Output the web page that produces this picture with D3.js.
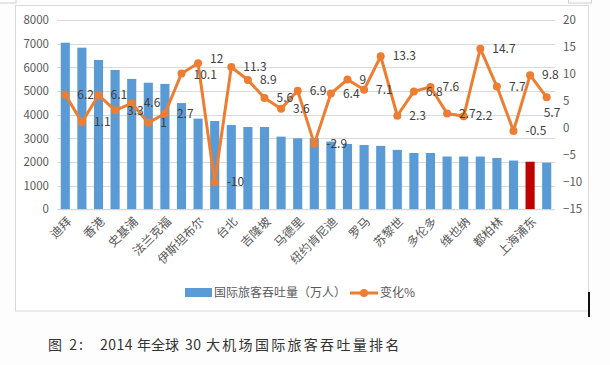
<!DOCTYPE html>
<html><head><meta charset="utf-8">
<script src="https://cdn.jsdelivr.net/npm/d3@7"></script>
<style>body{margin:0;background:#fdfdfd;}svg{display:block;}</style>
</head><body>
<svg id="c" width="610" height="365"></svg>
<script>
const categories = ["迪拜","伦敦希思罗","香港","巴黎戴高乐","史基浦","新加坡","法兰克福","首尔仁川","伊斯坦布尔","曼谷",
  "台北","伦敦盖特威克","吉隆坡","慕尼黑","马德里","东京成田","纽约肯尼迪","巴塞罗那","罗马","多哈",
  "苏黎世","莫斯科","多伦多","哥本哈根","维也纳","阿布扎比","都柏林","马尼拉","上海浦东","迈阿密"];
const passengers = [7040,6830,6310,5890,5510,5350,5300,4490,3830,3730,
  3560,3480,3480,3070,3000,3000,2860,2760,2720,2680,
  2510,2380,2380,2230,2230,2230,2170,2060,2010,1970];
const changePct = [6.2,1.1,6.1,3.3,4.6,1,2.7,10.1,12,-10,
  11.3,8.9,5.6,3.6,6.9,-2.9,6.4,9,7.1,13.3,
  2.3,6.8,7.6,2.7,2.2,14.7,7.7,-0.5,9.8,5.7];
const highlight = "上海浦东";
const leftTicks = [0,1000,2000,3000,4000,5000,6000,7000,8000];
const rightTicks = [-15,-10,-5,0,5,10,15,20];
const seriesNames = ["国际旅客吞吐量（万人）","变化%"];
const captionParts = ["图 2:","2014","年全球","30","大机场国际旅客吞吐量排名"];

const svg = d3.select("#c");
const font = "'Noto Sans CJK SC','Noto Sans',sans-serif";
const axisColor = "#595959";

// chart frame
svg.append("rect").attr("x",15.5).attr("y",5.5).attr("width",573).attr("height",305.5)
  .attr("fill","#fff").attr("stroke","#d9d9d9");
svg.append("rect").attr("x",-1).attr("y",-1).attr("width",17).attr("height",4)
  .attr("fill","none").attr("stroke","#d0d0d0");
svg.append("rect").attr("x",568.5).attr("y",-1).attr("width",23).attr("height",4)
  .attr("fill","none").attr("stroke","#d0d0d0");
svg.append("rect").attr("x",588).attr("y",292).attr("width",2).attr("height",25).attr("fill","#111");

const x = d3.scaleBand().domain(categories).range([57,555]).paddingInner(0.45).paddingOuter(0.225);
const yL = d3.scaleLinear().domain([0,8000]).range([209.3,20]);
const yR = d3.scaleLinear().domain([-15,20]).range([209.3,20]);

// gridlines
svg.append("g").selectAll("line").data(leftTicks).join("line")
  .attr("x1",57).attr("x2",555).attr("y1",d=>Math.round(yL(d))+0.5).attr("y2",d=>Math.round(yL(d))+0.5)
  .attr("stroke","#d9d9d9").attr("stroke-width",1);

// left axis
const gL = svg.append("g").attr("transform","translate(52,0)")
  .call(d3.axisLeft(yL).tickValues(leftTicks).tickFormat(d3.format("d")).tickSize(0).tickPadding(3));
gL.select(".domain").remove();
gL.selectAll("text").attr("font-family",font).attr("font-size","11.5px").attr("fill",axisColor);

// right axis
const gR = svg.append("g").attr("transform","translate(560,0)")
  .call(d3.axisRight(yR).tickValues(rightTicks).tickSize(0).tickPadding(3));
gR.select(".domain").remove();
gR.selectAll("text").attr("font-family",font).attr("font-size","11.5px").attr("fill",axisColor);

// bars
svg.append("g").selectAll("rect").data(categories).join("rect")
  .attr("x",d=>x(d)).attr("width",x.bandwidth())
  .attr("y",(d,i)=>yL(passengers[i])).attr("height",(d,i)=>yL(0)-yL(passengers[i]))
  .attr("fill",d=>d===highlight?"#C00000":"#5B9BD5");

// category axis labels (every other)
const gX = svg.append("g").attr("transform",`translate(0,${yL(0)})`)
  .call(d3.axisBottom(x).tickValues(categories.filter((d,i)=>i%2===0)).tickSize(0).tickPadding(0));
gX.select(".domain").attr("stroke","#d9d9d9").attr("d","M57,0.5H555");
gX.selectAll(".tick text").attr("font-family",font).attr("font-size","12px").attr("fill",axisColor)
  .attr("text-anchor","end").attr("dy","0.35em")
  .attr("transform","translate(4,10) rotate(-45)");

// line
const cx = d=>x(d)+x.bandwidth()/2;
const line = d3.line().x((d,i)=>cx(categories[i])).y(d=>yR(d));
svg.append("path").datum(changePct).attr("d",line).attr("fill","none")
  .attr("stroke","#ED7D31").attr("stroke-width",3).attr("stroke-linejoin","round");
svg.append("g").selectAll("circle").data(changePct).join("circle")
  .attr("cx",(d,i)=>cx(categories[i])).attr("cy",d=>yR(d)).attr("r",4).attr("fill","#ED7D31");

// data labels (right of point; last one below; 9th nudged up)
const last = changePct.length-1;
svg.append("g").selectAll("text").data(changePct).join("text")
  .attr("x",(d,i)=>cx(categories[i])+(i===last?-3:12))
  .attr("y",(d,i)=>yR(d)+(i===last?15:(i===8?-4:(i===7?1:0)))).attr("dy","0.35em")
  .attr("font-family",font).attr("font-size","12px").attr("fill","#404040")
  .text(d=>d);

// legend
const lg = svg.append("g");
lg.append("rect").attr("x",185).attr("y",288).attr("width",27).attr("height",9).attr("fill","#5B9BD5");
lg.append("text").attr("x",214).attr("y",293).attr("dy","0.35em").attr("font-family",font)
  .attr("font-size","12px").attr("fill",axisColor).text(seriesNames[0]);
lg.append("line").attr("x1",350).attr("x2",378).attr("y1",293).attr("y2",293)
  .attr("stroke","#ED7D31").attr("stroke-width",3);
lg.append("circle").attr("cx",364).attr("cy",293).attr("r",4).attr("fill","#ED7D31");
lg.append("text").attr("x",380).attr("y",293).attr("dy","0.35em").attr("font-family",font)
  .attr("font-size","12px").attr("fill",axisColor).text(seriesNames[1]);

// caption
const capX = [48,100,137,185,206];
const capLS = ["2px","0.5px","0px","0.5px","2.3px"];
const cap = svg.append("text").attr("y",345).attr("dy","0.35em").attr("font-family",font)
  .attr("font-size","14px").attr("fill","#333");
captionParts.forEach((t,i)=>{
  cap.append("tspan").attr("x",capX[i]).attr("letter-spacing",capLS[i]).text(t);
});
</script>
</body></html>
